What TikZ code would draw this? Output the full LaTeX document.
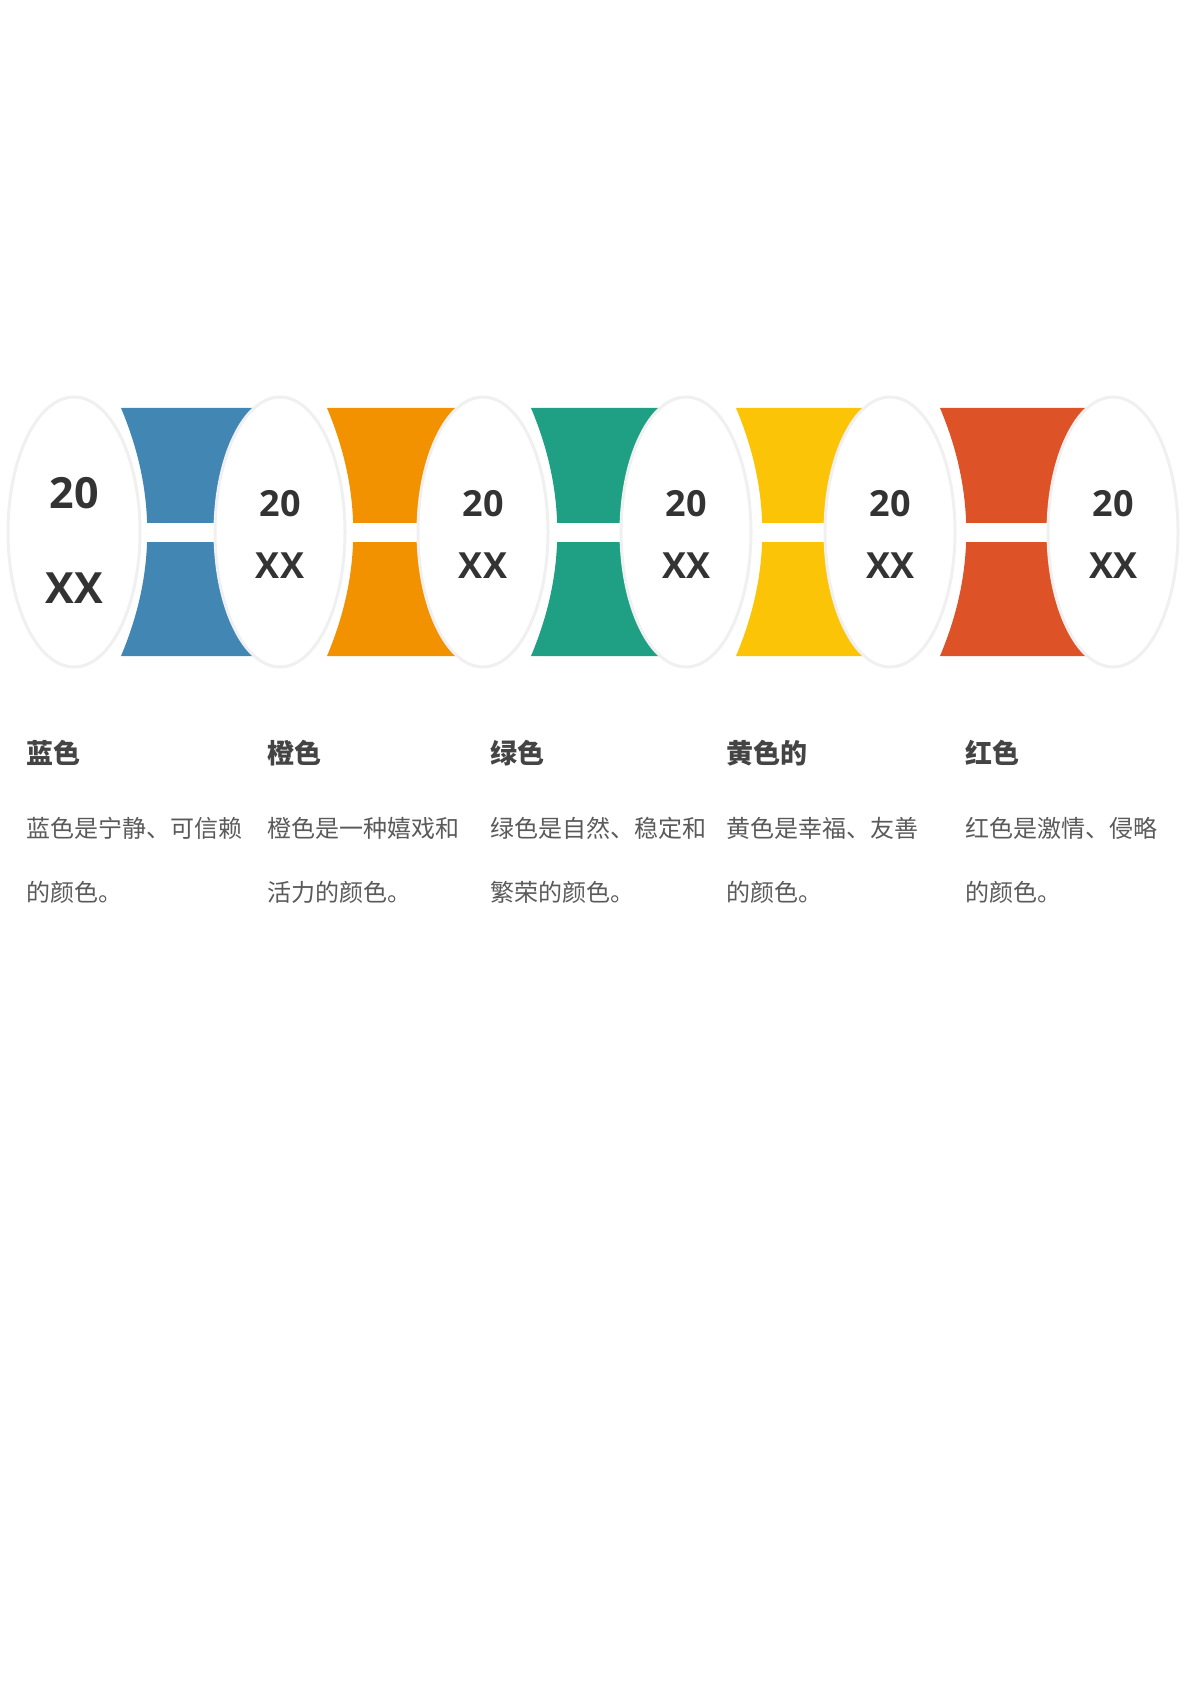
\documentclass[tikz,border=0pt]{standalone}
\usepackage{fontspec}
\newfontfamily\cjk{Noto Sans CJK SC}
\newfontfamily\numfont{Open Sans}
\usepackage{tikz}
\usetikzlibrary{positioning,shapes.geometric}
\definecolor{cblue}{HTML}{4287B4}
\definecolor{corange}{HTML}{F39200}
\definecolor{cgreen}{HTML}{1FA085}
\definecolor{cyellow}{HTML}{FBC406}
\definecolor{cred}{HTML}{DD5226}
\definecolor{ctext}{HTML}{333333}
\definecolor{chead}{HTML}{444444}
\definecolor{cbody}{HTML}{5A5A5A}

\begin{document}
\begin{tikzpicture}[x=0.5pt,y=-0.5pt,
    oval/.style={ellipse,draw=black!6,line width=1.5pt,fill=white,inner sep=0pt,
        minimum width=65pt,minimum height=135pt},
    year/.style={anchor=base,inner sep=0pt,text=ctext,font=\numfont\bfseries\fontsize{18}{18}\selectfont},
    head/.style={anchor=base west,inner sep=0pt,text=chead,font=\cjk\bfseries\fontsize{13.5}{16}\selectfont},
    body/.style={anchor=base west,inner sep=0pt,text=cbody,align=left,font=\cjk\fontsize{12}{32}\selectfont}]

    \useasboundingbox (0,0) rectangle (1191,1684); % Page

    % Coloured bands with hollow sides
    \foreach \L/\c in {121/cblue,327/corange,531/cgreen,736/cyellow,940/cred}
        {
        \fill[\c] (\L,408) .. controls (\L+35,491) and (\L+35,573) .. (\L,656)
            -- (\L+160,656) .. controls (\L+125,573) and (\L+125,491) .. (\L+160,408) -- cycle;
        }
    \fill[white] (100,523) rectangle (1110,542); % Gap across the bands

    % Ovals
    \node[oval,minimum width=66pt] (e1) at (74,532) {};
    \foreach \x [count=\i from 2] in {280,483,686,890,1113}
        \node[oval] (e\i) at (\x,532) {};

    \node[year,font=\numfont\bfseries\fontsize{21.5}{22}\selectfont] (y1) at (74,508) {20};
    \node[year,font=\numfont\bfseries\fontsize{21.5}{22}\selectfont] (x1) at (74,603) {XX};
    \foreach \i in {2,...,6}
        {
        \node[year] (y\i) at ([yshift=8pt]e\i.center) {20};
        \node[year] (x\i) at ([yshift=-23pt]e\i.center) {XX};
        }

    % Captions (body anchored on its last line)
    \foreach \x/\h/\t [count=\i] in {26/蓝色/{蓝色是宁静、可信赖\\的颜色。},
        267/橙色/{橙色是一种嬉戏和\\活力的颜色。},
        490/绿色/{绿色是自然、稳定和\\繁荣的颜色。},
        726/黄色的/{黄色是幸福、友善\\的颜色。},
        965/红色/{红色是激情、侵略\\的颜色。}}
        {
        \node[head] (h\i) at (\x,763) {\h};
        \node[body] (d\i) at (\x,901) {\t};
        }

\end{tikzpicture}
\end{document}
